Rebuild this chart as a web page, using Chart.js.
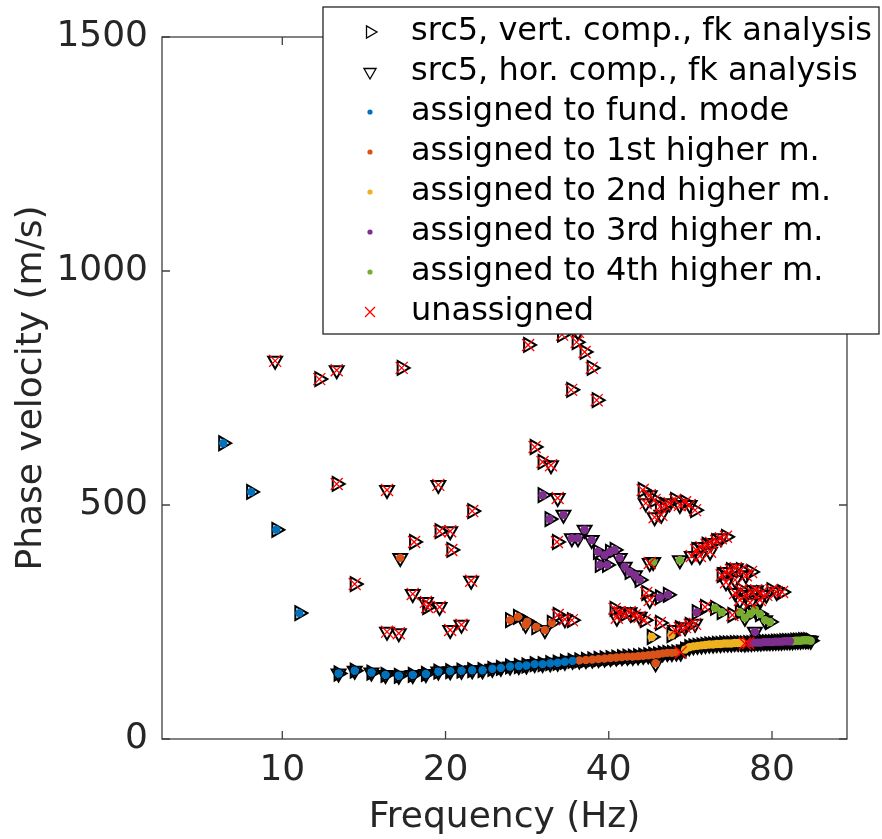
<!DOCTYPE html>
<html>
<head>
<meta charset="utf-8">
<script src="https://cdn.jsdelivr.net/npm/chart.js@4.4.0/dist/chart.umd.min.js"></script>
<style>
  html, body { margin: 0; padding: 0; background: #fff; }
  #wrap { width: 882px; height: 839px; }
</style>
</head>
<body>
<div id="wrap"><canvas id="dispersion" width="882" height="839"></canvas></div>
<script>
// Axis ticks
const xTicks = [10, 20, 40, 80];
const yTicks = [0, 500, 1000, 1500];

const legendLabels = [
    'src5, vert. comp., fk analysis',
    'src5, hor. comp., fk analysis',
    'assigned to fund. mode',
    'assigned to 1st higher m.',
    'assigned to 2nd higher m.',
    'assigned to 3rd higher m.',
    'assigned to 4th higher m.',
    'unassigned'
];
const modeColors = ['#0072BD', '#D95319', '#EDB120', '#7E2F8E', '#77AC30'];

// mode codes: 0 = fund., 1..4 = higher modes, -1 = unassigned

// dense ridge where both components pick (nearly) the same velocity
const ridgeFreq = [
    12.7, 13.6, 14.6, 15.5, 16.4, 17.4, 18.4, 19.4, 20.4, 21.4, 22.4, 23.4, 24.4, 25.3, 26.3, 27.3, 28.2, 29.2, 30.2, 31.2, 32.2, 33.2, 34.3,
    35.3, 36.3, 37.3, 38.3, 39.3, 40.3, 41.3, 42.3, 43.3, 44.3, 45.3, 46.3, 47.3, 48.3, 49.3, 50.3, 51.3, 52.3, 53.3, 54.3,
    55.3, 56.3, 57.3, 58.3, 59.3, 60.3, 61.3, 62.3, 63.3, 64.3, 65.3, 66.3, 67.3, 68.3, 69.3, 70.3, 71.3, 72.3,
    73.3, 74.3, 75.3, 76.3, 77.3, 78.3, 79.3, 80.3, 81.3, 82.3, 83.3, 84.3, 85.3, 86.3,
    87.3, 88.3, 89.3, 90.3, 91.3, 92.3, 93.3, 94.3
];
const ridgeVel = [
    140, 146, 142, 137, 135, 137, 139, 144, 145, 146, 147, 147, 150, 152, 155, 156, 157, 160, 160, 162, 163, 165, 167,
    168, 169, 170, 171, 172, 173, 174, 175, 176, 176, 177, 178, 179, 180, 181, 183, 184, 184, 185, 185,
    191, 196, 198, 199, 200, 201, 202, 202, 203, 203, 204, 204, 204, 205, 205, 205, 204, 205,
    205, 206, 206, 206, 207, 207, 207, 207, 208, 208, 208, 209, 209, 209,
    209, 210, 210, 210, 211, 211, 211, 210
];
const ridgeMode = [
    0, 0, 0, 0, 0, 0, 0, 0, 0, 0, 0, 0, 0, 0, 0, 0, 0, 0, 0, 0, 0, 0, 0,
    1, 1, 1, 1, 1, 1, 1, 1, 1, 1, 1, 1, 1, 1, 1, 1, 1, 1, 1, -1,
    2, 2, 2, 2, 2, 2, 2, 2, 2, 2, 2, 2, 2, 2, 2, 2, -1, -1,
    3, 3, 3, 3, 3, 3, 3, 3, 3, 3, 3, 3, 3, 3,
    4, 4, 4, 4, 4, 4, 4, 4
];

// vertical component picks off the ridge
const vertFreq = [
    7.78, 8.76, 9.75, 10.75,
    11.7, 16.6, 12.6, 17.5, 13.6, 22.4, 19.5, 20.5, 18.5,
    28.4, 34.9, 36.1, 37.2, 34.1, 38.0, 29.2, 30.2, 32.8,
    30.2, 31.1, 32.1, 38.2, 40.2, 41.0, 38.5, 39.7, 43.7, 45.6, 49.7, 51.4, 46.9,
    26.3, 27.2, 28.3, 29.4, 31.4, 32.2, 34.2,
    48.0, 52.2, 49.7, 58.1, 60.2, 62.8, 64.6, 69.8, 72.9, 76.0, 79.3, 67.6,
    46.2, 48.6, 50.8, 53.0, 55.3, 57.7, 49.7, 58.0, 60.6, 63.1, 65.8, 64.6, 67.2,
    70.1, 73.2, 70.1, 73.2, 76.4, 79.8, 83.5, 41.0, 42.8, 44.7, 46.6, 54.1, 56.4
];
const vertVel = [
    632, 528, 447, 269,
    769, 793, 545, 421, 331, 487, 444, 404, 282,
    842, 848, 827, 793, 746, 724, 624, 592, 864,
    521, 470, 421, 400, 400, 404, 372, 372, 357, 340, 303, 308, 312,
    254, 261, 250, 239, 248, 265, 254,
    218, 222, 248, 271, 282, 280, 271, 271, 267, 267, 250, 265,
    532, 511, 500, 511, 506, 489, 496, 404, 415, 423, 432, 350, 361,
    361, 357, 318, 314, 312, 318, 314, 278, 267, 265, 254, 237, 244
];
const vertMode = [
    0, 0, 0, 0,
    -1, -1, -1, -1, -1, -1, -1, -1, -1,
    -1, -1, -1, -1, -1, -1, -1, -1, -1,
    3, 3, -1, 3, 3, 3, 3, 3, 3, 3, 3, 3, -1,
    1, 1, 1, 1, 1, -1, -1,
    2, 2, -1, 3, -1, 4, 4, 4, 4, 4, 4, -1,
    -1, -1, -1, -1, -1, -1, -1, -1, -1, -1, -1, -1, -1,
    -1, -1, -1, -1, -1, -1, -1, -1, -1, -1, -1, -1, -1
];

// horizontal component picks off the ridge
const horFreq = [
    9.7, 12.6, 15.6, 19.4, 20.4, 16.5, 22.3, 17.4, 18.4, 19.5, 15.6, 16.4, 20.4, 21.4,
    32.2, 33.0, 34.2, 35.1, 36.1, 37.2, 39.3, 41.9, 42.8, 44.7, 47.6, 35.1, 31.3,
    28.1, 30.5, 33.2, 48.3, 47.6, 54.1, 74.4, 48.8, 71.3, 74.4, 77.7,
    46.8, 47.6, 51.8, 54.1, 56.4, 48.6, 50.0, 56.9, 59.3, 61.8, 64.4,
    58.9, 61.5, 65.8, 68.6, 71.6, 65.8, 68.4, 68.4, 71.6, 74.8, 78.1,
    81.6, 69.8, 72.9, 76.0, 41.9, 43.7, 45.6, 41.4, 53.0, 55.3, 57.7
];
const horVel = [
    808, 788, 532, 543, 444, 387, 338, 310, 293, 282, 229, 226, 233, 244,
    515, 479, 429, 429, 447, 425, 393, 387, 368, 350, 297, 870, 585,
    244, 233, 256, 378, 376, 382, 229, 162, 259, 276, 254,
    504, 521, 504, 500, 500, 474, 479, 391, 410, 419, 429,
    391, 400, 357, 365, 350, 335, 340, 312, 308, 318, 308,
    314, 297, 291, 297, 271, 271, 261, 259, 233, 239, 246
];
const horMode = [
    -1, -1, -1, -1, -1, 1, -1, -1, -1, -1, -1, -1, -1, -1,
    -1, 3, 3, 3, 3, 3, 3, 3, 3, 3, -1, -1, -1,
    1, 1, -1, 4, -1, 4, 3, 1, 4, 4, 4,
    -1, -1, -1, -1, -1, -1, -1, -1, -1, -1, -1,
    -1, -1, -1, -1, -1, -1, -1, -1, -1, -1, -1,
    -1, -1, -1, -1, -1, -1, -1, -1, -1, -1, -1
];

const FONT = 'DejaVu Sans';
const TEXT = '#262626';

function toPoints(freq, vel, mode) {
    return freq.map((f, i) => ({ x: f, y: vel[i], m: mode[i] }));
}

const ridgePts = toPoints(ridgeFreq, ridgeVel, ridgeMode);
const vertPts = toPoints(vertFreq, vertVel, vertMode).concat(ridgePts);
const horPts = toPoints(horFreq, horVel, horMode).concat(ridgePts);
const allPicks = toPoints(vertFreq, vertVel, vertMode)
    .concat(toPoints(horFreq, horVel, horMode), ridgePts);

function picksOfMode(k) {
    return allPicks.filter(p => p.m === k);
}

const triangleStyle = {
    pointStyle: 'triangle',
    pointRadius: 8,
    pointBorderColor: '#000000',
    pointBorderWidth: 2,
    pointBackgroundColor: 'rgba(0,0,0,0)',
    order: 3
};

const datasets = [
    Object.assign({ label: legendLabels[0], data: vertPts, pointRotation: 90 }, triangleStyle),
    Object.assign({ label: legendLabels[1], data: horPts, pointRotation: 180 }, triangleStyle)
];
modeColors.forEach((c, k) => {
    datasets.push({
        label: legendLabels[k + 2],
        data: picksOfMode(k),
        pointStyle: 'circle',
        pointRadius: 4.2,
        pointBorderWidth: 0,
        pointBorderColor: c,
        pointBackgroundColor: c,
        legendRadius: 2.6,
        order: 2
    });
});
datasets.push({
    label: legendLabels[7],
    data: picksOfMode(-1),
    pointStyle: 'crossRot',
    pointRadius: 8.5,
    pointBorderWidth: 1.3,
    pointBorderColor: '#FF0000',
    pointBackgroundColor: '#FF0000',
    order: 1
});

// box around the axes with inward ticks on all sides
const frame = {
    id: 'frame',
    afterDatasetsDraw(chart) {
        const { ctx, chartArea: a, scales: { x, y } } = chart;
        ctx.save();
        ctx.strokeStyle = '#404040';
        ctx.lineWidth = 1.3;
        ctx.strokeRect(a.left, a.top, a.right - a.left, a.bottom - a.top);
        ctx.beginPath();
        xTicks.forEach(v => {
            const px = x.getPixelForValue(v);
            ctx.moveTo(px, a.bottom); ctx.lineTo(px, a.bottom - 8);
            ctx.moveTo(px, a.top); ctx.lineTo(px, a.top + 8);
        });
        yTicks.forEach(v => {
            const py = y.getPixelForValue(v);
            ctx.moveTo(a.left, py); ctx.lineTo(a.left + 8, py);
            ctx.moveTo(a.right, py); ctx.lineTo(a.right - 8, py);
        });
        ctx.stroke();
        ctx.restore();
    }
};

// legend box drawn over the top right of the plot
const boxLegend = {
    id: 'boxLegend',
    afterDraw(chart) {
        const ctx = chart.ctx;
        ctx.save();
        ctx.fillStyle = '#ffffff';
        ctx.fillRect(323, 7, 556, 327);
        ctx.strokeStyle = TEXT;
        ctx.lineWidth = 1.3;
        ctx.strokeRect(323, 7, 556, 327);
        chart.data.datasets.forEach((ds, i) => {
            const cy = 32 + 40 * i;
            ctx.strokeStyle = ds.pointBorderColor;
            ctx.fillStyle = ds.pointBackgroundColor;
            ctx.lineWidth = ds.pointStyle === 'triangle' ? 1.3 : ds.pointBorderWidth;
            Chart.helpers.drawPoint(ctx, {
                pointStyle: ds.pointStyle,
                rotation: ds.pointRotation || 0,
                radius: ds.legendRadius || 7,
                borderWidth: ds.pointBorderWidth
            }, 370, cy);
            ctx.fillStyle = '#000000';
            ctx.font = '32px "' + FONT + '"';
            ctx.textBaseline = 'middle';
            ctx.textAlign = 'left';
            ctx.fillText(ds.label, 411, cy);
        });
        ctx.restore();
    }
};

new Chart(document.getElementById('dispersion'), {
    type: 'scatter',
    data: { datasets: datasets },
    options: {
        responsive: false,
        animation: false,
        events: [],
        devicePixelRatio: 1,
        layout: { padding: { left: 0, right: 35, top: 37, bottom: 0 } },
        plugins: {
            legend: { display: false },
            tooltip: { enabled: false }
        },
        scales: {
            x: {
                type: 'logarithmic',
                position: 'bottom',
                min: 6.0,
                max: 110,
                grid: { display: false, drawTicks: false },
                border: { display: false },
                afterBuildTicks: s => { s.ticks = xTicks.map(v => ({ value: v })); },
                afterFit: s => { s.height = 100; },
                ticks: {
                    autoSkip: false,
                    maxRotation: 0,
                    padding: 10,
                    color: TEXT,
                    font: { family: FONT, size: 36 },
                    callback: v => String(v)
                },
                title: {
                    display: true,
                    text: 'Frequency (Hz)',
                    color: TEXT,
                    font: { family: FONT, size: 36 },
                    padding: { top: 0, bottom: 0 }
                }
            },
            y: {
                type: 'linear',
                min: 0,
                max: 1500,
                grid: { display: false, drawTicks: false },
                border: { display: false },
                afterBuildTicks: s => { s.ticks = yTicks.map(v => ({ value: v })); },
                afterFit: s => { s.width = 162; },
                ticks: {
                    padding: 14,
                    color: TEXT,
                    font: { family: FONT, size: 36 },
                    callback: v => String(v)
                },
                title: {
                    display: true,
                    text: 'Phase velocity (m/s)',
                    color: TEXT,
                    font: { family: FONT, size: 36 },
                    padding: { top: 10, bottom: 0 }
                }
            }
        }
    },
    plugins: [frame, boxLegend]
});
</script>
</body>
</html>
